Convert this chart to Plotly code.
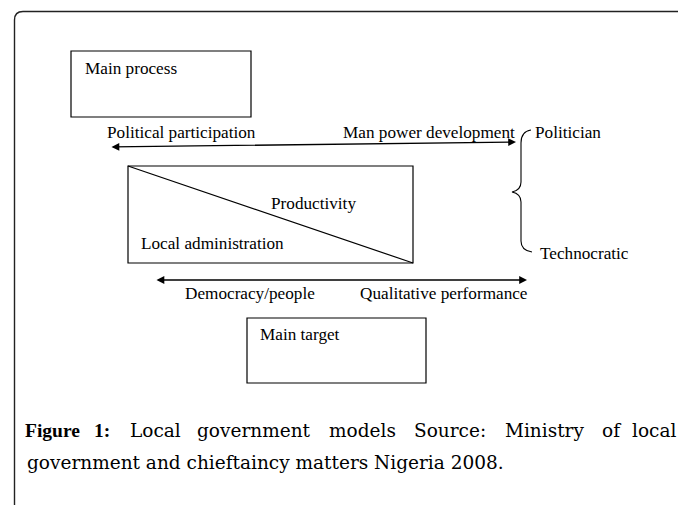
import plotly.graph_objects as go

W, H = 678, 505

# Diagram text labels
labels = ["Main process", "Political participation", "Man power development", "Politician",
          "Productivity", "Local administration", "Technocratic",
          "Democracy/people", "Qualitative performance", "Main target"]
label_x = [83, 105, 341, 533, 269, 139, 538, 183, 358, 258]
label_y = [68, 132, 132, 132, 203, 243, 253, 293, 293, 334]

# Boxes (x0, x1, y0, y1)
box_x0 = [71, 128, 247]
box_x1 = [251, 413, 426]
box_y0 = [51, 166, 318]
box_y1 = [117, 263, 383]

# Double-headed arrows (start -> end)
arrow_x0 = [110, 155]
arrow_y0 = [147, 280]
arrow_x1 = [516, 527]
arrow_y1 = [142, 280]

# Caption (line 1 is justified: word centres)
caption_words = ["Figure", "1:", "Local", "government", "models", "Source:", "Ministry", "of", "local"]
caption_word_cx = [52, 102, 155, 254, 362, 450, 544, 611, 657]
caption_line2 = "government and chieftaincy matters Nigeria 2008."

fig = go.Figure()
fig.add_trace(go.Scatter(x=[0, W], y=[0, H], mode="markers", marker=dict(opacity=0),
                         hoverinfo="skip", showlegend=False))

shapes = []
# Outer rounded frame
shapes.append(dict(type="path", path="M 14.5,520 L 14.5,20 Q 14.5,11.5 23,11.5 L 700,11.5",
                   line=dict(color="#222", width=1.4), xref="x", yref="y"))
for x0, x1, y0, y1 in zip(box_x0, box_x1, box_y0, box_y1):
    shapes.append(dict(type="rect", x0=x0, x1=x1, y0=y0, y1=y1, xref="x", yref="y",
                       line=dict(color="black", width=1.2)))
# Diagonal in local administration box
shapes.append(dict(type="line", x0=box_x0[1], y0=box_y0[1], x1=box_x1[1], y1=box_y1[1],
                   xref="x", yref="y", line=dict(color="black", width=1.2)))
# Curly brace
shapes.append(dict(type="path",
                   path="M 531,130 C 524,131 521,135 521,143 L 521,182 C 521,188 517,191 512,192 "
                        "C 517,193 521,196 521,202 L 521,241 C 521,248 525,251 532,252",
                   xref="x", yref="y", line=dict(color="black", width=1.1)))

annotations = []
for x0, y0, x1, y1 in zip(arrow_x0, arrow_y0, arrow_x1, arrow_y1):
    annotations.append(dict(x=x1, y=y1, ax=x0, ay=y0, xref="x", yref="y", axref="x", ayref="y",
                            showarrow=True, arrowhead=2, startarrowhead=2, arrowside="end+start",
                            arrowsize=1.2, startarrowsize=1.2, arrowwidth=1.3, arrowcolor="black", text=""))

for t, x, y in zip(labels, label_x, label_y):
    annotations.append(dict(x=x, y=y, xref="x", yref="y", text=t, showarrow=False,
                            xanchor="left", yanchor="middle",
                            font=dict(family="Liberation Serif", size=17.2, color="black")))

cap_font = dict(family="DejaVu Serif", size=18.5, color="black")
cap_bold_font = dict(family="Liberation Serif", size=19.5, color="black")
n = len(caption_words)
for i, (w, cx) in enumerate(zip(caption_words, caption_word_cx)):
    if i < 2:
        txt, f = f"<b>{w}</b>", cap_bold_font
    else:
        txt, f = w, cap_font
    if i == n - 1:
        anchor, xpos = "right", 677.5
    else:
        anchor, xpos = "center", cx
    annotations.append(dict(x=xpos, y=430, xref="x", yref="y", text=txt, showarrow=False,
                            xanchor=anchor, yanchor="middle", font=f))
annotations.append(dict(x=25, y=462, xref="x", yref="y", text=caption_line2, showarrow=False,
                        xanchor="left", yanchor="middle", font=cap_font))

fig.update_layout(
    width=W, height=H, margin=dict(l=0, r=0, t=0, b=0),
    paper_bgcolor="white", plot_bgcolor="white",
    xaxis=dict(range=[0, W], visible=False, fixedrange=True),
    yaxis=dict(range=[H, 0], visible=False, fixedrange=True),
    shapes=shapes, annotations=annotations, showlegend=False,
)
fig.write_html("out.html", config={"displayModeBar": False},
               post_script="document.body.style.margin='0';document.body.style.overflow='hidden';")
